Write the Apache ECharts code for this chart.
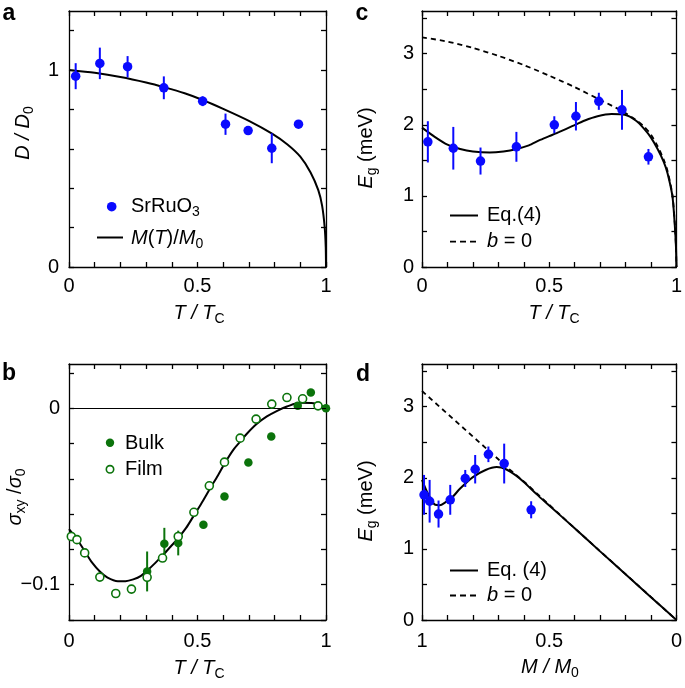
<!DOCTYPE html>
<html><head><meta charset="utf-8">
<script src="https://cdn.jsdelivr.net/npm/echarts@6/dist/echarts.min.js"></script>
<style>html,body{margin:0;padding:0;background:#fff}#c{width:685px;height:688px}</style>
</head><body><div id="c"></div>
<script>
// ---------- Panel a : D/D0 vs T/Tc ----------
const aT    = [0.026, 0.12, 0.228, 0.369, 0.52, 0.609, 0.697, 0.789, 0.893];
const aD    = [0.969, 1.034, 1.017, 0.910, 0.842, 0.725, 0.693, 0.603, 0.725];
const aDerr = [0.066, 0.080, 0.054, 0.058, 0.025, 0.054, 0.020, 0.076, 0.0];
const aCurveT = [0, 0.1, 0.2, 0.3, 0.373, 0.45, 0.52, 0.6, 0.7, 0.79, 0.85, 0.9, 0.94, 0.97, 0.985, 0.995, 0.999, 1.0];
const aCurveM = [1.0, 0.986, 0.965, 0.937, 0.912, 0.882, 0.848, 0.803, 0.742, 0.677, 0.622, 0.56, 0.48, 0.39, 0.31, 0.2, 0.1, 0];

// ---------- Panel b : sigma_xy/sigma0 vs T/Tc ----------
const bBulkT   = [0.304, 0.371, 0.425, 0.523, 0.605, 0.698, 0.787, 0.89, 0.941, 1.0];
const bBulkV   = [-0.0925, -0.0768, -0.0764, -0.066, -0.050, -0.0308, -0.0161, 0.0013, 0.0088, 0.0];
const bBulkErr = [0.0113, 0.009, 0.007, 0, 0, 0, 0, 0, 0, 0];
const bFilmT = [0.009, 0.031, 0.061, 0.12, 0.182, 0.243, 0.304, 0.364, 0.425, 0.486, 0.546, 0.605, 0.666, 0.728, 0.789, 0.848, 0.909, 0.969];
const bFilmV = [-0.0727, -0.0745, -0.082, -0.0957, -0.105, -0.1025, -0.0958, -0.0849, -0.0727, -0.059, -0.044, -0.0306, -0.017, -0.0062, 0.0023, 0.006, 0.0053, 0.0013];
const bCurveT = [0, 0.03, 0.061, 0.09, 0.12, 0.15, 0.19, 0.22, 0.25, 0.28, 0.308, 0.337, 0.367, 0.395, 0.425, 0.455, 0.484, 0.515, 0.549, 0.58, 0.607, 0.64, 0.666, 0.692, 0.73, 0.77, 0.81, 0.848, 0.9, 0.952, 0.98, 1.0];
const bCurveV = [-0.0685, -0.074, -0.081, -0.0875, -0.0925, -0.096, -0.098, -0.098, -0.097, -0.095, -0.0915, -0.0875, -0.083, -0.0785, -0.0736, -0.068, -0.0613, -0.054, -0.0455, -0.038, -0.031, -0.0235, -0.019, -0.0145, -0.009, -0.0047, -0.0015, 0.0009, 0.003, 0.0028, 0.0015, 0];
const bZeroLine = 0;

// ---------- Panel c : Eg vs T/Tc ----------
const cT   = [0.023, 0.123, 0.23, 0.371, 0.52, 0.605, 0.695, 0.786, 0.89];
const cE   = [1.76, 1.67, 1.49, 1.69, 2.00, 2.12, 2.33, 2.21, 1.55];
const cErr = [0.29, 0.30, 0.19, 0.21, 0.12, 0.20, 0.12, 0.28, 0.11];
const cSolidT = [0, 0.05, 0.1, 0.15, 0.2, 0.266, 0.32, 0.373, 0.42, 0.46, 0.5, 0.54, 0.59, 0.64, 0.69, 0.745, 0.797, 0.84, 0.874, 0.9, 0.926, 0.95, 0.965, 0.984, 0.993, 0.998, 1.0];
const cSolidE = [1.96, 1.83, 1.72, 1.66, 1.625, 1.61, 1.625, 1.66, 1.71, 1.78, 1.84, 1.90, 1.98, 2.06, 2.12, 2.15, 2.14, 2.06, 1.94, 1.82, 1.66, 1.48, 1.32, 1.0, 0.62, 0.3, 0];
const cDashT = [0, 0.1, 0.2, 0.3, 0.4, 0.5, 0.6, 0.7, 0.783, 0.84, 0.874, 0.9, 0.926, 0.95, 0.965, 0.984, 0.993, 0.998, 1.0];
const cDashE = [3.23, 3.17, 3.08, 2.97, 2.84, 2.69, 2.53, 2.35, 2.2, 2.07, 1.97, 1.86, 1.7, 1.51, 1.35, 1.02, 0.64, 0.3, 0];

// ---------- Panel d : Eg vs M/M0 ----------
const dM   = [0.992, 0.970, 0.935, 0.889, 0.830, 0.791, 0.739, 0.677, 0.571];
const dE   = [1.76, 1.67, 1.49, 1.69, 1.99, 2.12, 2.33, 2.20, 1.55];
const dErr = [0.28, 0.30, 0.19, 0.21, 0.12, 0.20, 0.11, 0.28, 0.12];
const dSolidM = [1, 0.98, 0.96, 0.948, 0.93, 0.91, 0.88, 0.85, 0.8, 0.75, 0.706, 0.67, 0.63, 0.6, 0.55, 0.5, 0.4, 0.3, 0.2, 0.1, 0];
const dSolidE = [1.97, 1.8, 1.67, 1.62, 1.615, 1.65, 1.73, 1.85, 2.01, 2.11, 2.15, 2.12, 2.03, 1.94, 1.77, 1.61, 1.29, 0.965, 0.643, 0.32, 0];
const dDashM = [1, 0.9, 0.8, 0.7, 0.66, 0.6, 0.5, 0.4, 0];
const dDashE = [3.22, 2.9, 2.58, 2.26, 2.13, 1.95, 1.62, 1.29, 0];

// ---------- Tick values ----------
const xTicks01 = [0, 0.1, 0.2, 0.3, 0.4, 0.5, 0.6, 0.7, 0.8, 0.9, 1.0];
const xLabels01 = [0, 0.5, 1];
const aYTicks = [0, 0.2, 0.4, 0.6, 0.8, 1.0, 1.2];
const aYLabels = [0, 1];
const bYTicks = [-0.12, -0.1, -0.08, -0.06, -0.04, -0.02, 0, 0.02];
const bYLabels = [-0.1, 0];
const cYTicks = [0, 0.5, 1, 1.5, 2, 2.5, 3, 3.5];
const cYLabels = [0, 1, 2, 3];

const FONT = '"Liberation Sans", Arial, Helvetica, sans-serif';
const BLUE = '#0a0aff';
const GREEN = '#0b730b';

const zip = (a, b) => a.map((v, i) => [v, b[i]]);
const zip3 = (a, b, c) => a.map((v, i) => [v, b[i], c[i]]);
const fmt = v => (v < 0 ? '\u2212' : '') + String(Math.abs(v));

function axes(grid, min, max, ticks, labels, inverse, margin, isY) {
  const common = {
    gridIndex: grid, type: 'value', min: min, max: max, inverse: !!inverse,
    axisLine: {show: true, onZero: false, lineStyle: {color: '#000', width: 1.3}},
    axisTick: {show: true, inside: true, length: 5, customValues: ticks, lineStyle: {color: '#000', width: 1.3}},
    splitLine: {show: false}
  };
  return [
    Object.assign({}, common, {position: isY ? 'left' : 'bottom',
      axisLabel: {show: true, customValues: labels, margin: margin, fontSize: 20, fontFamily: FONT, color: '#000', formatter: fmt}}),
    Object.assign({}, common, {position: isY ? 'right' : 'top', axisLabel: {show: false}})
  ];
}

function errBar(color, width) {
  return function (params, api) {
    const x = api.value(0), y = api.value(1), e = api.value(2);
    const p1 = api.coord([x, y - e]), p2 = api.coord([x, y + e]);
    return {type: 'line', shape: {x1: p1[0], y1: p1[1], x2: p2[0], y2: p2[1]},
      style: {stroke: color, lineWidth: width}};
  };
}

const RICH = {
  i: {fontStyle: 'italic', fontSize: 20, fontFamily: FONT, fill: '#000'},
  n: {fontSize: 20, fontFamily: FONT, fill: '#000'},
  s: {fontSize: 14, fontFamily: FONT, fill: '#000', padding: [13, 0, 0, 0], lineHeight: 20},
  b: {fontSize: 23, fontWeight: 'bold', fontFamily: FONT, fill: '#000'}
};
function txt(text, x, y, opts) {
  opts = opts || {};
  return {type: 'text', x: x, y: y, rotation: opts.rot || 0, z: 100,
    style: {text: text, rich: RICH, textAlign: opts.align || 'center', textVerticalAlign: 'middle',
      font: '20px ' + FONT, fill: '#000'}};
}

const xAxis = [].concat(
  axes(0, 0, 1, xTicks01, xLabels01, false, 9, false),
  axes(1, 0, 1, xTicks01, xLabels01, false, 9, false),
  axes(2, 0, 1, xTicks01, xLabels01, false, 11, false),
  axes(3, 0, 1, xTicks01, xLabels01, true, 11, false)
);
const yAxis = [].concat(
  axes(0, 0, 1.3, aYTicks, aYLabels, false, 10, true),
  axes(1, 0, 3.6, cYTicks, cYLabels, false, 8, true),
  axes(2, -0.12, 0.025, bYTicks, bYLabels, false, 9, true),
  axes(3, 0, 3.6, cYTicks, cYLabels, false, 8, true)
);

const line = (xi, data, opts) => Object.assign({type: 'line', xAxisIndex: xi, yAxisIndex: xi, data: data,
  symbol: 'none', silent: true, clip: true, lineStyle: {color: '#000', width: 2}, z: 2}, opts || {});

const series = [
  // a
  line(0, zip(aCurveT, aCurveM), {smooth: 0.25}),
  {type: 'custom', xAxisIndex: 0, yAxisIndex: 0, data: zip3(aT, aD, aDerr), renderItem: errBar(BLUE, 2), encode: {x: 0, y: 1}, z: 3},
  {type: 'scatter', xAxisIndex: 0, yAxisIndex: 0, data: zip(aT, aD), symbolSize: 9.5, itemStyle: {color: BLUE, opacity: 1}, z: 4},
  // c
  line(2, zip(cDashT, cDashE), {smooth: 0.25, lineStyle: {color: '#000', width: 1.8, type: [5, 4]}}),
  line(2, zip(cSolidT, cSolidE), {smooth: 0.25}),
  {type: 'custom', xAxisIndex: 2, yAxisIndex: 2, data: zip3(cT, cE, cErr), renderItem: errBar(BLUE, 2), encode: {x: 0, y: 1}, z: 3},
  {type: 'scatter', xAxisIndex: 2, yAxisIndex: 2, data: zip(cT, cE), symbolSize: 9.5, itemStyle: {color: BLUE, opacity: 1}, z: 4},
  // b
  line(4, zip(bCurveT, bCurveV), {smooth: 0.3,
    markLine: {symbol: 'none', silent: true, label: {show: false}, lineStyle: {color: '#000', width: 1, type: 'solid'}, data: [{yAxis: bZeroLine}]}}),
  {type: 'custom', xAxisIndex: 4, yAxisIndex: 4, data: zip3(bBulkT, bBulkV, bBulkErr), renderItem: errBar(GREEN, 2), encode: {x: 0, y: 1}, z: 3},
  {type: 'scatter', xAxisIndex: 4, yAxisIndex: 4, data: zip(bBulkT, bBulkV), symbolSize: 8.5, itemStyle: {color: GREEN, opacity: 1}, z: 4},
  {type: 'scatter', xAxisIndex: 4, yAxisIndex: 4, data: zip(bFilmT, bFilmV), symbolSize: 8, itemStyle: {color: '#fff', borderColor: GREEN, borderWidth: 1.6, opacity: 1}, z: 5},
  // d
  line(6, zip(dDashM, dDashE), {lineStyle: {color: '#000', width: 1.8, type: [5, 4]}}),
  line(6, zip(dSolidM, dSolidE), {smooth: 0.3}),
  {type: 'custom', xAxisIndex: 6, yAxisIndex: 6, data: zip3(dM, dE, dErr), renderItem: errBar(BLUE, 2), encode: {x: 0, y: 1}, z: 3},
  {type: 'scatter', xAxisIndex: 6, yAxisIndex: 6, data: zip(dM, dE), symbolSize: 9.5, itemStyle: {color: BLUE, opacity: 1}, z: 4}
];

const graphic = [
  // panel letters
  txt('{b|a}', 9, 14), txt('{b|c}', 362, 14), txt('{b|b}', 9, 374), txt('{b|d}', 363, 375),
  // x titles
  txt('{i|T / T}{s|C}', 199, 313), txt('{i|T / T}{s|C}', 554, 313),
  txt('{i|T / T}{s|C}', 199, 668), txt('{i|M / M}{s|0}', 550, 667),
  // y titles
  txt('{i|D / D}{s|0}', 23, 133, {rot: Math.PI / 2}),
  txt('{i|E}{s|g}{n| (meV)}', 366, 148, {rot: Math.PI / 2}),
  txt('{i|\u03c3}{s|xy}{n| /}{i|\u03c3}{s|0}', 15, 497, {rot: Math.PI / 2}),
  txt('{i|E}{s|g}{n| (meV)}', 366, 501, {rot: Math.PI / 2}),
  // legend a
  {type: 'circle', shape: {cx: 111.7, cy: 206.7, r: 4.8}, style: {fill: BLUE}, z: 100},
  txt('{n|SrRuO}{s|3}', 131, 206, {align: 'left'}),
  {type: 'line', shape: {x1: 97, y1: 237.5, x2: 123, y2: 237.5}, style: {stroke: '#000', lineWidth: 2}, z: 100},
  txt('{i|M}{n|(}{i|T}{n|)/}{i|M}{s|0}', 131, 238, {align: 'left'}),
  // legend b
  {type: 'circle', shape: {cx: 110, cy: 442.7, r: 4.2}, style: {fill: GREEN}, z: 100},
  txt('{n|Bulk}', 125, 443, {align: 'left'}),
  {type: 'circle', shape: {cx: 110, cy: 469.3, r: 3.7}, style: {fill: '#fff', stroke: GREEN, lineWidth: 1.6}, z: 100},
  txt('{n|Film}', 125, 469.5, {align: 'left'}),
  // legend c
  {type: 'line', shape: {x1: 450, y1: 215.5, x2: 478, y2: 215.5}, style: {stroke: '#000', lineWidth: 2}, z: 100},
  txt('{n|Eq.(4)}', 487, 215.5, {align: 'left'}),
  {type: 'line', shape: {x1: 450, y1: 241.7, x2: 478, y2: 241.7}, style: {stroke: '#000', lineWidth: 1.8, lineDash: [6, 4]}, z: 100},
  txt('{i|b}{n| = 0}', 487, 241.5, {align: 'left'}),
  // legend d
  {type: 'line', shape: {x1: 450, y1: 570.5, x2: 478, y2: 570.5}, style: {stroke: '#000', lineWidth: 2}, z: 100},
  txt('{n|Eq. (4)}', 487, 570.5, {align: 'left'}),
  {type: 'line', shape: {x1: 450, y1: 595.5, x2: 478, y2: 595.5}, style: {stroke: '#000', lineWidth: 1.8, lineDash: [6, 4]}, z: 100},
  txt('{i|b}{n| = 0}', 487, 595.5, {align: 'left'})
];

const chart = echarts.init(document.getElementById('c'), null, {renderer: 'canvas'});
chart.setOption({
  animation: false,
  backgroundColor: '#fff',
  grid: [
    {left: 69, top: 11, width: 257, height: 256},
    {left: 422, top: 11, width: 257, height: 256},
    {left: 69, top: 364, width: 257, height: 256},
    {left: 422, top: 364, width: 256, height: 256}
  ],
  xAxis: xAxis,
  yAxis: yAxis,
  series: series,
  graphic: graphic
});
</script></body></html>
